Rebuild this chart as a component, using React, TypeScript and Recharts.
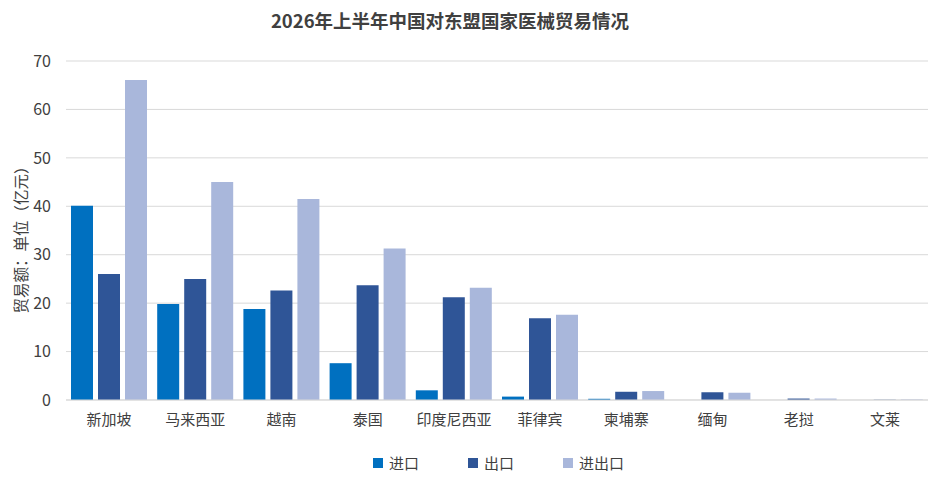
import React from "react";
import {
  Bar,
  BarChart,
  CartesianGrid,
  XAxis,
  YAxis,
} from "recharts";

const countries = ["新加坡", "马来西亚", "越南", "泰国", "印度尼西亚", "菲律宾", "柬埔寨", "缅甸", "老挝", "文莱"];
const importValues = [40.1, 19.8, 18.8, 7.6, 2.0, 0.7, 0.25, 0, 0, 0];
const exportValues = [26.0, 25.0, 22.6, 23.7, 21.2, 16.9, 1.7, 1.6, 0.3, 0.05];
const totalValues = [66.1, 45.0, 41.5, 31.3, 23.2, 17.6, 1.85, 1.5, 0.3, 0.1];
const yTicks = [0, 10, 20, 30, 40, 50, 60, 70];

const series = [
  { key: "import", name: "进口", color: "#0070C0" },
  { key: "export", name: "出口", color: "#2F5597" },
  { key: "total", name: "进出口", color: "#A9B7DB" },
];

const data = countries.map((name, i) => ({
  name,
  import: importValues[i],
  export: exportValues[i],
  total: totalValues[i],
}));

const font = "'Noto Sans CJK SC', 'Noto Sans', sans-serif";

export default function App() {
  return (
    <div style={{ position: "absolute", left: 0, top: 0, width: 931, height: 486, background: "#fff", fontFamily: font }}>
      <div
        style={{
          position: "absolute",
          top: 7,
          left: 0,
          width: 900,
          textAlign: "center",
          fontSize: 18.5,
          fontWeight: 700,
          color: "#404040",
        }}
      >
        2026年上半年中国对东盟国家医械贸易情况
      </div>
      <div
        style={{
          position: "absolute",
          left: 20,
          top: 236,
          transform: "translate(-50%, -50%) rotate(-90deg)",
          whiteSpace: "nowrap",
          fontSize: 15.5,
          color: "#404040",
        }}
      >
        贸易额：单位（亿元）
      </div>
      <BarChart
        width={931}
        height={486}
        data={data}
        margin={{ top: 61, right: 3, left: 0, bottom: 56 }}
        barGap={5}
        barSize={22}
      >
        <CartesianGrid vertical={false} stroke="#d9d9d9" />
        <XAxis
          dataKey="name"
          height={30}
          axisLine={{ stroke: "#d9d9d9" }}
          tickLine={false}
          tick={{ fill: "#404040", fontSize: 15, fontFamily: font }}
          tickMargin={8}
          interval={0}
        />
        <YAxis
          domain={[0, 70]}
          ticks={yTicks}
          width={66}
          axisLine={false}
          tickLine={false}
          tick={{ fill: "#404040", fontSize: 16, fontFamily: font }}
          tickMargin={9}
        />
        {series.map((s) => (
          <Bar key={s.key} dataKey={s.key} name={s.name} fill={s.color} isAnimationActive={false} />
        ))}
      </BarChart>
      <div style={{ position: "absolute", top: 452, left: 373, display: "flex", fontSize: 15, color: "#404040" }}>
        {series.map((s) => (
          <div key={s.key} style={{ display: "flex", alignItems: "center", width: 95 }}>
            <span style={{ display: "inline-block", width: 10, height: 10, background: s.color, marginRight: 6 }} />
            <span>{s.name}</span>
          </div>
        ))}
      </div>
    </div>
  );
}
